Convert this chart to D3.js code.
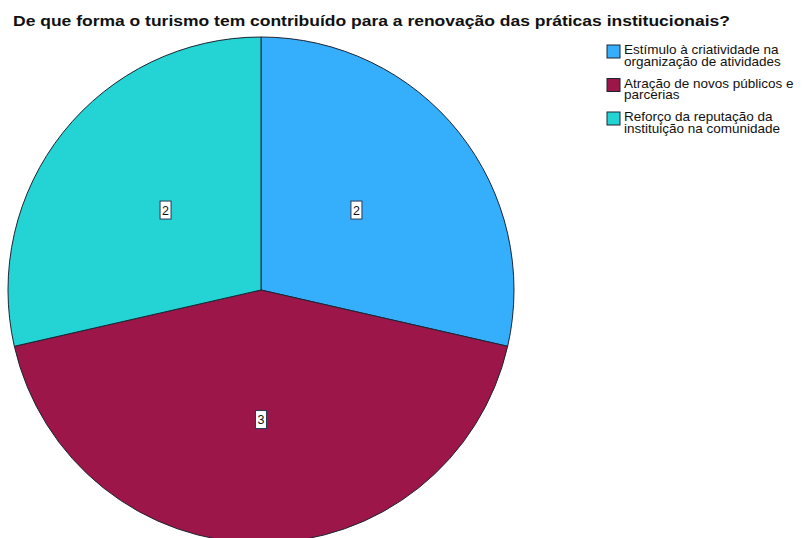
<!DOCTYPE html>
<html><head><meta charset="utf-8">
<script src="https://cdn.jsdelivr.net/npm/d3@7"></script>
<style>body{margin:0;background:#fff}svg{display:block}</style>
</head><body>
<script>
const title = "De que forma o turismo tem contribuído para a renovação das práticas institucionais?";
const categories = ["Estímulo à criatividade na organização de atividades", "Atração de novos públicos e parcerias", "Reforço da reputação da instituição na comunidade"];
const legendLines = [["Estímulo à criatividade na", "organização de atividades"], ["Atração de novos públicos e", "parcerias"], ["Reforço da reputação da", "instituição na comunidade"]];
const values = [2, 3, 2];
const colors = ["#35aefc", "#9c1649", "#24d3d3"];

const W = 804, H = 538;
const svg = d3.select("body").append("svg").attr("width", W).attr("height", H);

svg.append("text").attr("x", 13).attr("y", 26)
  .attr("font-family", "Liberation Sans, Arial, sans-serif").attr("font-weight", "bold")
  .attr("font-size", 15).attr("fill", "#111")
  .attr("textLength", 717).attr("lengthAdjust", "spacingAndGlyphs")
  .text(title);

const cx = 261, cy = 290, r = 253;
const pie = d3.pie().sort(null).value(d => d);
const arcs = pie(values);
const arc = d3.arc().innerRadius(0).outerRadius(r);
const g = svg.append("g").attr("transform", `translate(${cx},${cy})`);
g.selectAll("path").data(arcs).join("path")
  .attr("d", arc).attr("fill", (d, i) => colors[i])
  .attr("stroke", "#1d2433").attr("stroke-width", 1);

const lab = g.selectAll("g.lab").data(arcs).join("g").attr("class", "lab")
  .attr("transform", d => { const c = arc.centroid(d); return `translate(${c[0] * 0.965},${c[1] * 1.02 + 0.5})`; });
lab.append("rect").attr("x", -5.5).attr("y", -9).attr("width", 11).attr("height", 18)
  .attr("fill", "#fff").attr("stroke", "#2b3a55").attr("stroke-width", 1);
lab.append("text").attr("text-anchor", "middle").attr("y", 4.5)
  .attr("font-family", "Liberation Sans, Arial, sans-serif").attr("font-size", 12.5).attr("fill", "#111")
  .text(d => d.data);

const leg = svg.append("g").attr("transform", "translate(607,45)");
const items = leg.selectAll("g").data(categories).join("g")
  .attr("transform", (d, i) => `translate(0,${i * 33.5})`);
items.append("rect").attr("x", 0).attr("y", 0).attr("width", 13).attr("height", 13)
  .attr("fill", (d, i) => colors[i]).attr("stroke", "#1d2433").attr("stroke-width", 1);
items.each(function(d, i) {
  const t = d3.select(this).append("text")
    .attr("font-family", "Liberation Sans, Arial, sans-serif").attr("font-size", 13.5).attr("fill", "#111");
  legendLines[i].forEach((ln, j) => {
    t.append("tspan").attr("x", 17).attr("y", 9 + j * 11.5).text(ln);
  });
});
</script>
</body></html>
